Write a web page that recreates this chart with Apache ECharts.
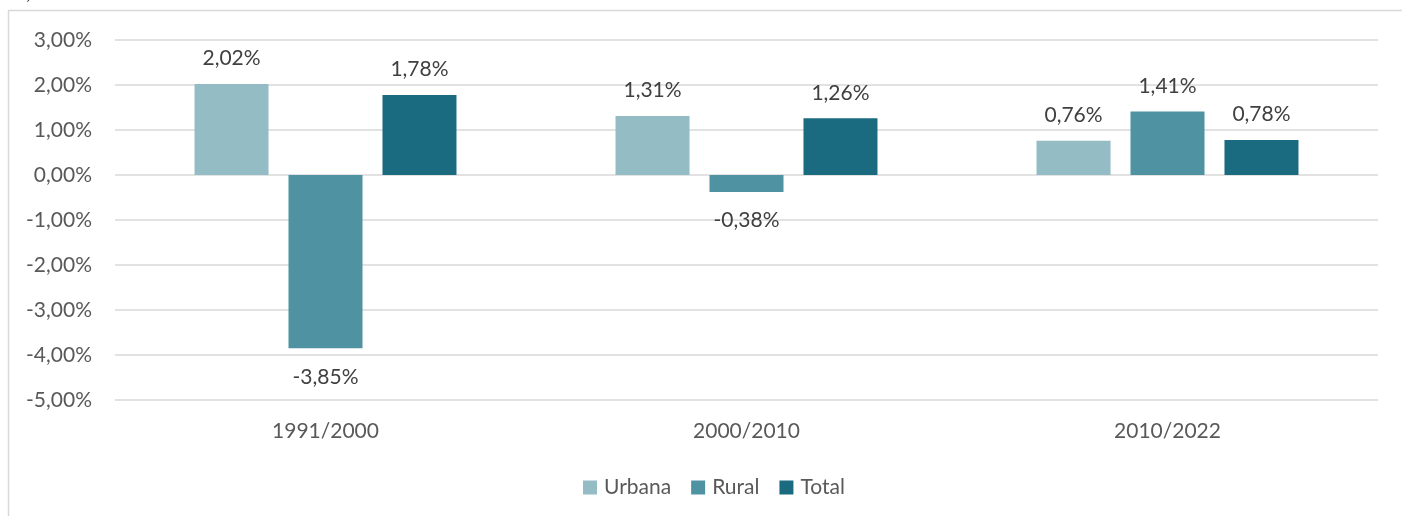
<!DOCTYPE html>
<html>
<head>
<meta charset="utf-8">
<script src="https://cdn.jsdelivr.net/npm/echarts@6/dist/echarts.min.js"></script>
<style>
  html, body { margin: 0; padding: 0; background: #fff; }
  #chart { width: 1402px; height: 516px; }
</style>
</head>
<body>
<div id="chart"></div>
<script>
var categories = ['1991/2000', '2000/2010', '2010/2022'];
var urbana = [2.02, 1.31, 0.76];
var rural = [-3.85, -0.38, 1.41];
var total = [1.78, 1.26, 0.78];

var fontFamily = 'Lato, "Noto Sans", sans-serif';

function pct(v) {
  return v.toFixed(2).replace('.', ',') + '%';
}

function makeSeries(name, data, color) {
  return {
    name: name,
    type: 'bar',
    // rótulos negativos ficam um pouco mais afastados da barra
    data: data.map(function (v) {
      return { value: v, label: { distance: v < 0 ? 18 : 15 } };
    }),
    barWidth: 74,
    barGap: '27%',
    itemStyle: { color: color },
    label: {
      show: true,
      position: 'outside',
      color: '#404040',
      fontSize: 21,
      fontFamily: fontFamily,
      formatter: function (p) { return pct(p.value); }
    }
  };
}

var chart = echarts.init(document.getElementById('chart'));
var option = {
  animation: false,
  graphic: [
    {
      type: 'rect',
      shape: { x: 8.5, y: 10.5, width: 1420, height: 540 },
      style: { fill: 'none', stroke: '#d9d9d9', lineWidth: 1.5 },
      silent: true
    },
    // pedaço do título cortado no topo
    {
      type: 'text',
      left: 26,
      top: -18,
      style: { text: ',', fill: '#222', fontSize: 21, fontFamily: fontFamily },
      silent: true
    }
  ],
  grid: { left: 115, right: 24, top: 40, bottom: 116 },
  legend: {
    left: 578,
    top: 472,
    itemWidth: 14,
    itemHeight: 14,
    itemGap: 20,
    icon: 'rect',
    textStyle: { color: '#595959', fontSize: 21, fontFamily: fontFamily, padding: [0, 0, 0, 2] },
    data: ['Urbana', 'Rural', 'Total']
  },
  xAxis: {
    type: 'category',
    data: categories,
    position: 'bottom',
    axisLine: { show: false, onZero: false },
    axisTick: { show: false },
    axisLabel: { color: '#595959', fontSize: 21, fontFamily: fontFamily, margin: 21 }
  },
  yAxis: {
    type: 'value',
    min: -5,
    max: 3,
    interval: 1,
    axisLine: { show: false },
    axisTick: { show: false },
    splitLine: { lineStyle: { color: '#d9d9d9', width: 1.5 } },
    axisLabel: {
      color: '#595959',
      fontSize: 21,
      fontFamily: fontFamily,
      margin: 23,
      formatter: function (v) { return pct(v); }
    }
  },
  series: [
    makeSeries('Urbana', urbana, '#93bcc5'),
    makeSeries('Rural', rural, '#4f93a2'),
    makeSeries('Total', total, '#1a6a80')
  ]
};
chart.setOption(option);
</script>
</body>
</html>
